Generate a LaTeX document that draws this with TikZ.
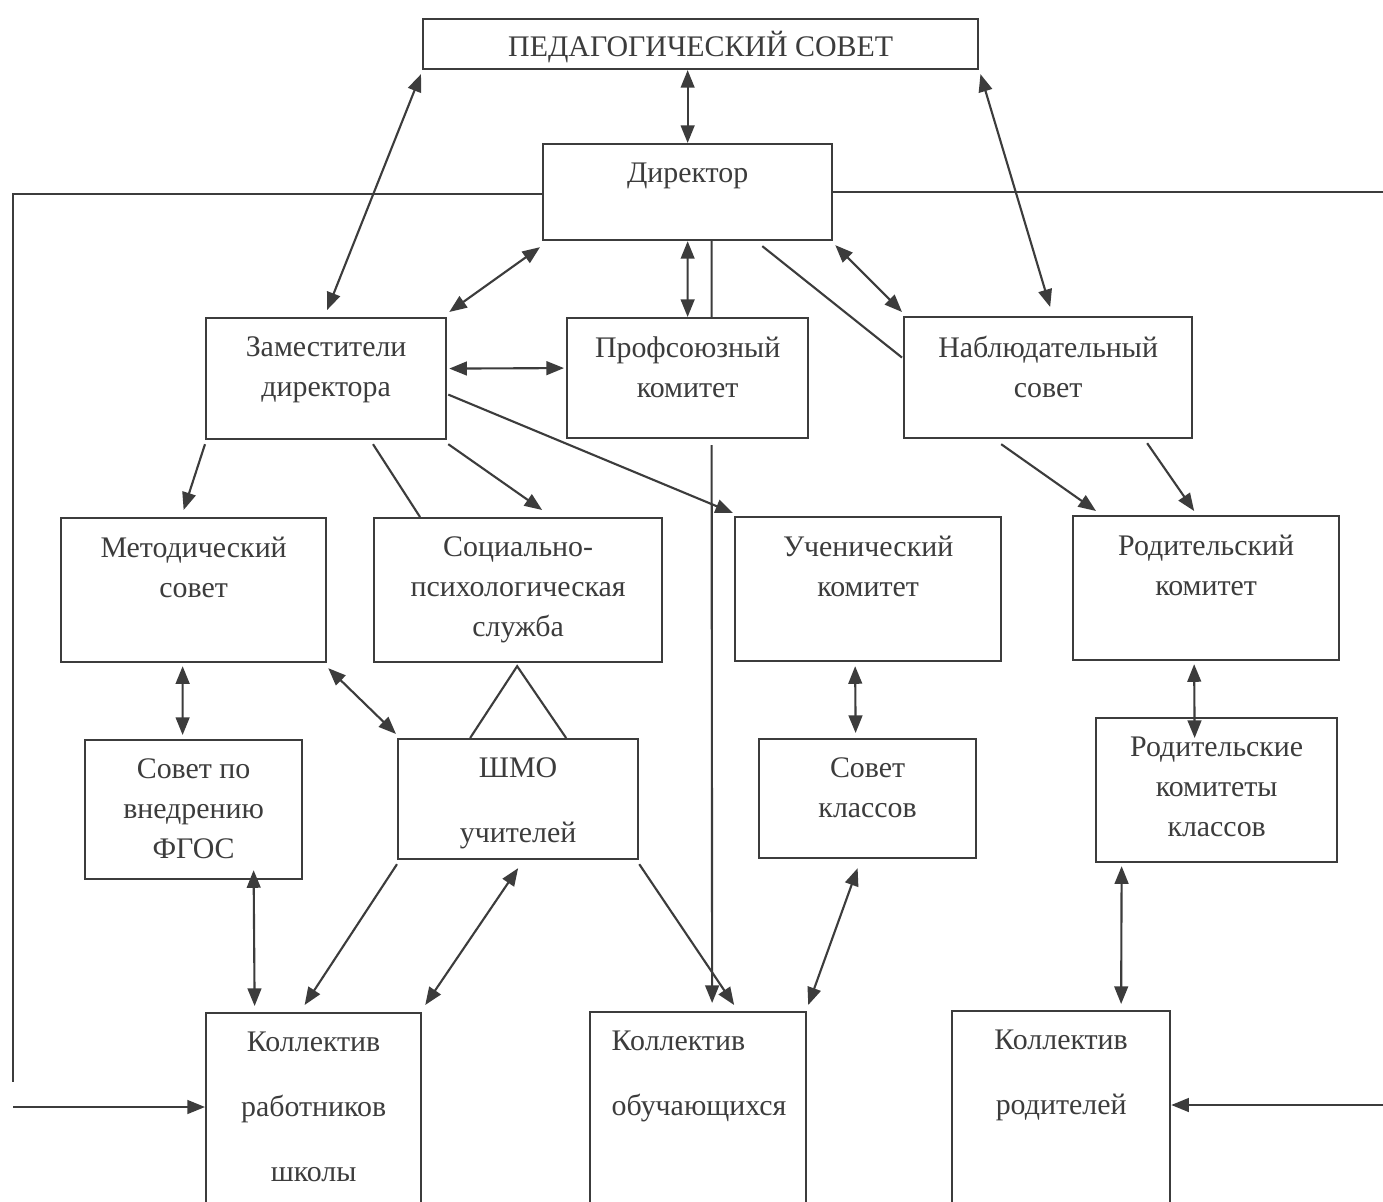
\documentclass[tikz,border=0pt]{standalone}
\usepackage{fontspec}
\setmainfont{Liberation Serif}
\usetikzlibrary{arrows.meta}
\definecolor{ink}{HTML}{3C3C3C}

\tikzset{
  blk/.style={draw=ink, line width=0.6pt, anchor=north west, inner sep=0pt},
  txt/.style={anchor=north, align=center, text=ink, inner sep=0pt, yshift=-5.5pt,
    font=\fontsize{8.5}{11.3}\selectfont},
  lnk/.style={draw=ink, line width=0.6pt},
}

\begin{document}
\begin{tikzpicture}[x=0.01cm, y=-0.01cm, >={Triangle[length=5pt,width=3.9pt]}]
\useasboundingbox (0,0) rectangle (1383,1201);
\clip (0,0) rectangle (1383,1201);
\fill[white] (0,0) rectangle (1383,1201);

\node[blk, minimum width=5.55cm, minimum height=0.50cm, label={[txt, yshift=2pt]north:{ПЕДАГОГИЧЕСКИЙ СОВЕТ}}] (ped) at (422,18) {};
\node[blk, minimum width=2.89cm, minimum height=0.96cm, label={[txt]north:{Директор}}] (dir) at (542,143) {};
\node[blk, minimum width=2.40cm, minimum height=1.21cm, label={[txt]north:{Заместители\\директора}}] (zam) at (205,317) {};
\node[blk, minimum width=2.41cm, minimum height=1.20cm, label={[txt]north:{Профсоюзный\\комитет}}] (prof) at (566,317) {};
\node[blk, minimum width=2.88cm, minimum height=1.21cm, label={[txt]north:{Наблюдательный\\совет}}] (nab) at (903,316) {};
\node[blk, minimum width=2.65cm, minimum height=1.44cm, label={[txt]north:{Методический\\совет}}] (met) at (60,517) {};
\node[blk, minimum width=2.88cm, minimum height=1.44cm, label={[txt]north:{Социально-\\психологическая\\служба}}] (soc) at (373,517) {};
\node[blk, minimum width=2.66cm, minimum height=1.44cm, label={[txt]north:{Ученический\\комитет}}] (uch) at (734,516) {};
\node[blk, minimum width=2.66cm, minimum height=1.44cm, label={[txt]north:{Родительский\\комитет}}] (rod) at (1072,515) {};
\node[blk, minimum width=2.17cm, minimum height=1.39cm, label={[txt]north:{Совет по\\внедрению\\ФГОС}}] (sovf) at (84,739) {};
\node[blk, minimum width=2.40cm, minimum height=1.20cm, label={[txt]north:{ШМО\\[7.2pt]учителей}}] (shmo) at (397,738) {};
\node[blk, minimum width=2.17cm, minimum height=1.19cm, label={[txt]north:{Совет\\классов}}] (sovk) at (758,738) {};
\node[blk, minimum width=2.41cm, minimum height=1.44cm, label={[txt]north:{Родительские\\комитеты\\классов}}] (rodk) at (1095,717) {};
\node[blk, minimum width=2.15cm, minimum height=2.10cm, label={[txt]north:{Коллектив\\[7.2pt]работников\\[7.2pt]школы}}] (kr) at (205,1012) {};
\node[blk, minimum width=2.16cm, minimum height=2.10cm, label={[txt, anchor=north west, align=left, xshift=0.22cm]north west:{Коллектив\\[7.2pt]обучающихся}}] (ko) at (589,1011) {};
\node[blk, minimum width=2.18cm, minimum height=2.10cm, label={[txt]north:{Коллектив\\[7.2pt]родителей}}] (kp) at (951,1010) {};

\coordinate (lc) at (13,194);
\coordinate (lt) at (13,1082);
\coordinate (lb) at (13,1107);
\coordinate (rt) at (1383,192);
\coordinate (rb) at (1383,1105);

\draw[lnk] (dir.west |- lc) -- (lc) -- (lt);
\draw[lnk] (dir.east |- rt) -- (rt);
\draw[lnk,->] (lb) -- (lb -| kr.west);
\draw[lnk,->] (rb) -- (rb -| kp.east);

\draw[lnk,<->] (ped.south -| dir.north) -- (dir.north);
\draw[lnk,<->] ([shift={(-1,4)}]ped.south west) -- ([shift={(1,-7)}]zam.north);
\draw[lnk,<->] ([shift={(1,4)}]ped.south east) -- ([shift={(2,-9)}]nab.north);
\draw[lnk,<->] ([shift={(-2,6)}]dir.south west) -- ([shift={(2,-5)}]zam.north east);
\draw[lnk,<->] (dir.south) -- (prof.north);
\draw[lnk,<->] ([shift={(2,4)}]dir.south east) -- ([shift={(-1,-4)}]nab.north west);
\draw[lnk] ([shift={(-71,5)}]dir.south east) -- ([shift={(-1,-20)}]nab.west);
\draw[lnk] ([shift={(24,0)}]dir.south) -- ([shift={(24,0)}]prof.north);
\draw[lnk,->] ([shift={(24,6)}]prof.south) -- ([shift={(14,-8)}]ko.north);

\draw[lnk,<->] ([shift={(2,-10)}]zam.east) -- ([shift={(-2,-10)}]prof.west);
\draw[lnk,->] ([shift={(0,4)}]zam.south west) -- ([shift={(-10,-7)}]met.north);
\draw[lnk] ([shift={(168,4)}]zam.south west) -- ([shift={(47,0)}]soc.north west);
\draw[lnk,->] ([shift={(1,4)}]zam.south east) -- ([shift={(24,-7)}]soc.north);
\draw[lnk,->] ([shift={(1,16)}]zam.east) -- ([shift={(-1,-3)}]uch.north west);
\draw[lnk,->] ([shift={(-47,5)}]nab.south) -- ([shift={(24,-4)}]rod.north west);
\draw[lnk,->] ([shift={(99,4)}]nab.south) -- ([shift={(-12,-4)}]rod.north);

\draw[lnk,<->] ([shift={(-11,3)}]met.south) -- ([shift={(-11,-4)}]sovf.north);
\draw[lnk,<->] ([shift={(1,5)}]met.south east) -- ([shift={(-1,-4)}]shmo.north west);
\draw[lnk] ([shift={(-48,0)}]shmo.north) -- ([shift={(-1,3)}]soc.south) -- ([shift={(48,0)}]shmo.north);
\draw[lnk,<->] ([shift={(-13,4)}]uch.south) -- ([shift={(-12,-5)}]sovk.north);
\draw[lnk,<->] ([shift={(-12,3)}]rod.south) -- ([shift={(-22,21)}]rodk.north);

\draw[lnk,<->] ([shift={(60,-10)}]sovf.south) -- ([shift={(-59,-6)}]kr.north);
\draw[lnk,->] ([shift={(0,4)}]shmo.south west) -- ([shift={(-9,-7)}]kr.north);
\draw[lnk,<->] ([shift={(0,8)}]shmo.south) -- ([shift={(3,-7)}]kr.north east);
\draw[lnk,->] ([shift={(0,4)}]shmo.south east) -- ([shift={(36,-6)}]ko.north);
\draw[lnk,<->] ([shift={(-10,9)}]sovk.south) -- ([shift={(1,-6)}]ko.north east);
\draw[lnk,<->] ([shift={(-95,3)}]rodk.south) -- ([shift={(60,-6)}]kp.north);
\end{tikzpicture}
\end{document}
